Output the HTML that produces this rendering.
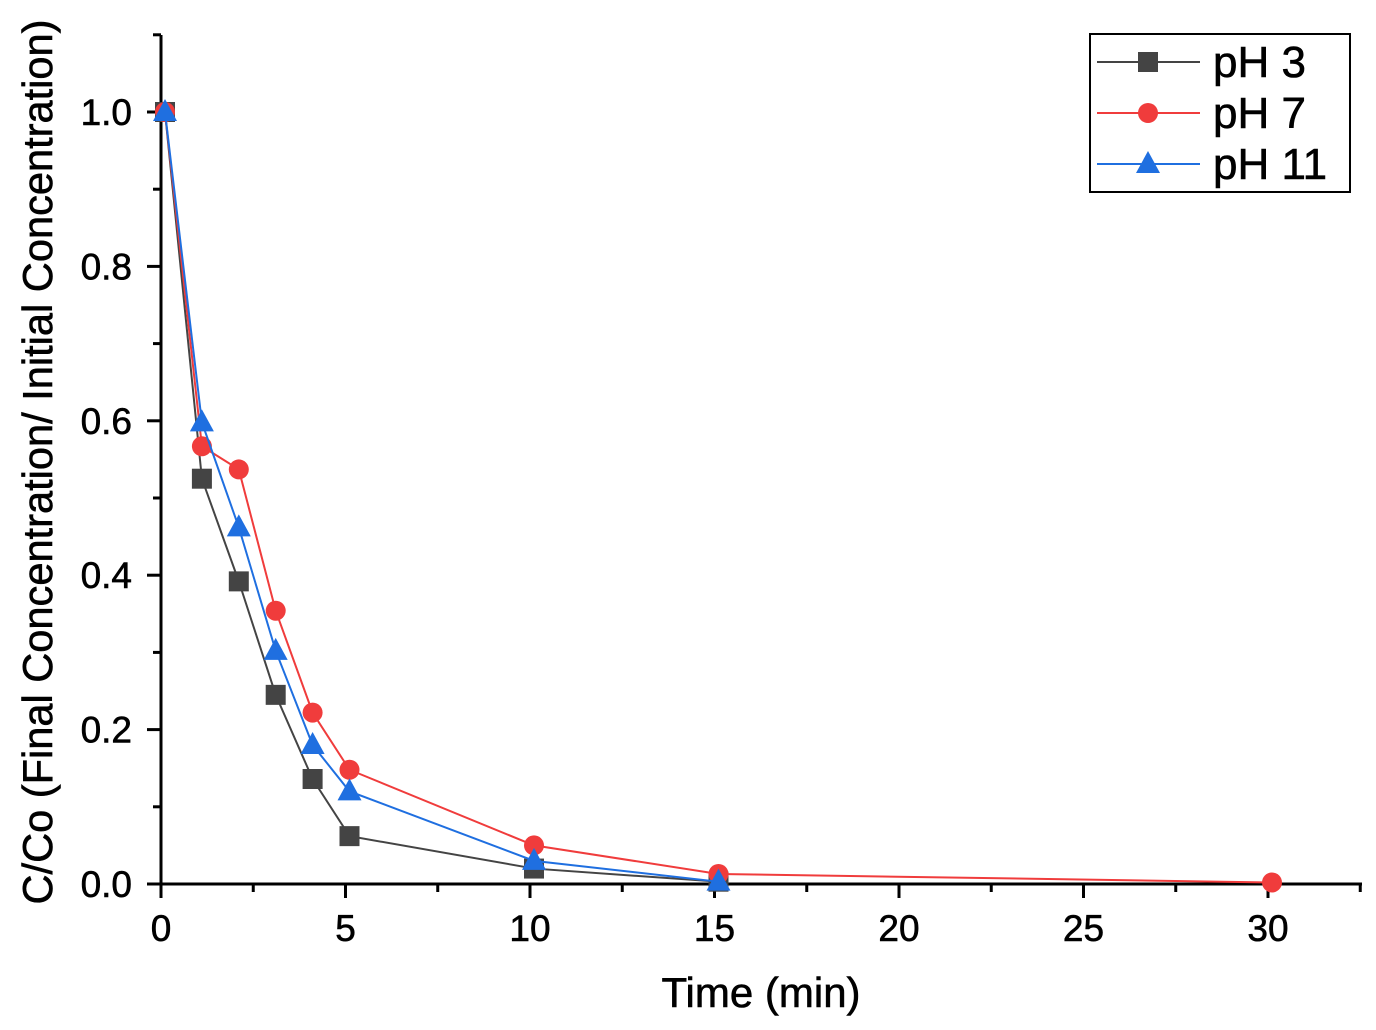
<!DOCTYPE html>
<html><head><meta charset="utf-8"><style>
html,body{margin:0;padding:0;background:#fff;}
svg{display:block;font-family:"Liberation Sans",sans-serif;}
</style></head><body>
<svg id="chart" width="1376" height="1030" viewBox="0 0 1376 1030"></svg>
<script>
const times = [0,1,2,3,4,5,10,15,30];
const ph3 = [1,0.525,0.392,0.245,0.136,0.062,0.02,0.003,null];
const ph7 = [1,0.567,0.537,0.354,0.222,0.148,0.05,0.013,0.002];
const ph11 = [1,0.598,0.462,0.302,0.18,0.12,0.03,0.003,null];
const xTicks = [0,5,10,15,20,25,30];
const yTicks = [0,0.2,0.4,0.6,0.8,1.0];
const seriesNames = ['pH 3','pH 7','pH 11'];

const NS='http://www.w3.org/2000/svg';
const svg=document.getElementById('chart');
const X0=161,X1=1268,Y0=884,Y1=112;
const xs=v=>X0+(v/30)*(X1-X0);
const ys=v=>Y0-(v/1)*(Y0-Y1);
function mk(tag,attrs,parent){const e=document.createElementNS(NS,tag);for(const k in attrs)e.setAttribute(k,attrs[k]);(parent||svg).appendChild(e);return e;}

const ax=mk('g',{});


mk('line',{x1:X0,y1:35,x2:X0,y2:Y0+1,stroke:'#000','stroke-width':3},ax);
mk('line',{x1:X0-1,y1:Y0,x2:1362,y2:Y0,stroke:'#000','stroke-width':3},ax);
for(let v=0;v<=32.5;v+=2.5){const x=xs(v);const major=(v%5===0);
 mk('line',{x1:x,y1:Y0,x2:x,y2:Y0+(major?14:8),stroke:'#000','stroke-width':3},ax);}
for(let v=0;v<=1.1001;v+=0.1){const y=ys(v);const major=(Math.round(v*10)%2===0);
 mk('line',{x1:X0,y1:y,x2:X0-(major?14:8),y2:y,stroke:'#000','stroke-width':3},ax);}
xTicks.forEach(v=>{const t=mk('text',{x:xs(v),y:941,'font-size':37,'text-anchor':'middle',fill:'#000',stroke:'#000','stroke-width':0.6});t.textContent=v;
 });
yTicks.forEach(v=>{const t=mk('text',{x:132,y:ys(v)+13,'font-size':37,'text-anchor':'end',fill:'#000',stroke:'#000','stroke-width':0.6});t.textContent=v.toFixed(1);
 });
const xt=mk('text',{x:761,y:1007,'font-size':42,'text-anchor':'middle',stroke:'#000','stroke-width':0.6});xt.textContent='Time (min)';

const yt=mk('text',{x:0,y:0,'font-size':42,'text-anchor':'middle',stroke:'#000','stroke-width':0.6,textLength:885,lengthAdjust:'spacingAndGlyphs',transform:'translate(52,462) rotate(-90)'});yt.textContent='C/Co (Final Concentration/ Initial Concentration)';


function marker(type,x,y,color,g){
 if(type==='sq') mk('rect',{x:x-10,y:y-10,width:20,height:20,fill:color},g);
 else if(type==='ci') mk('circle',{cx:x,cy:y,r:10,fill:color},g);
 else mk('polygon',{points:`${x},${y-13} ${x+12},${y+9} ${x-12},${y+9}`,fill:color},g);
}
const series=[[ph3,'#444','sq'],[ph7,'#f03c3c','ci'],[ph11,'#1f6fe0','tr']];
series.forEach((s,i)=>{
 const g=mk('g',{});
 
 
 const pts=[];times.forEach((t,j)=>{if(s[0][j]!=null)pts.push([xs(t)+4,ys(s[0][j])]);});
 mk('polyline',{points:pts.map(p=>p.join(',')).join(' '),fill:'none',stroke:s[1],'stroke-width':2},g);
 pts.forEach(p=>marker(s[2],p[0],p[1],s[1],g));
});

const lg=mk('g',{});


mk('rect',{x:1090,y:34,width:260,height:158,fill:'#fff',stroke:'#000','stroke-width':2},lg);
series.forEach((s,i)=>{const y=62+i*51;
 mk('line',{x1:1097,y1:y,x2:1200,y2:y,stroke:s[1],'stroke-width':2},lg);
 marker(s[2],1148,y,s[1],lg);
 const t=mk('text',{x:1213,y:y+15,'font-size':44,stroke:'#000','stroke-width':0.6},lg);t.textContent=seriesNames[i];
 
});
</script>
</body></html>
